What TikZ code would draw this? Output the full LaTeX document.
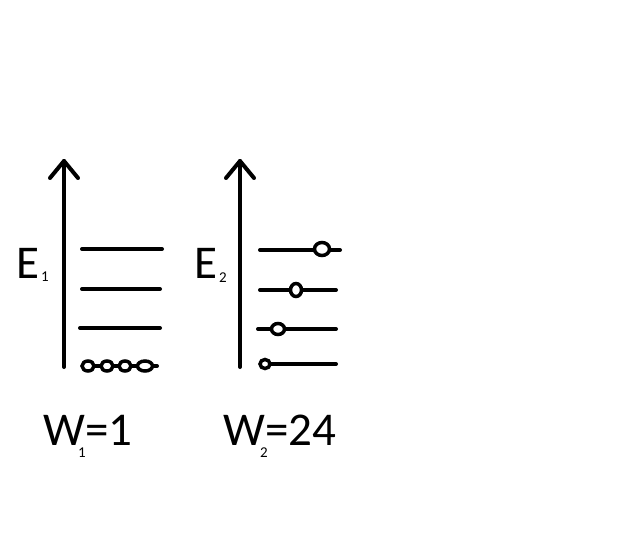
\documentclass[tikz,border=0pt]{standalone}
\usepackage{fontspec}
\setmainfont{Carlito}
\begin{document}
\begin{tikzpicture}[x=1pt,y=-1pt,
  axis/.style={line width=4pt,line cap=round,line join=round},
  level/.style={line width=4pt,line cap=round},
  ring/.style={line width=3.5pt,fill=white},
  big/.style={font=\fontsize{47}{47}\selectfont,inner sep=0pt,anchor=base west},
  sub/.style={font=\fontsize{15}{15}\selectfont,inner sep=0pt,anchor=base west}]
\useasboundingbox (0,0) rectangle (634,551);
% left diagram
\coordinate (a1b) at (64,367);
\coordinate (a1t) at (64,161);
\draw[axis] (a1b) -- (a1t);
\draw[axis] (50,178) -- (a1t) -- (78,178);
\node[big] (e1) at (16,278) {E};
\node[sub] (e1s) at (41,281) {1};
\draw[level] (82,249) -- (162,249);
\draw[level] (82,289) -- (160,289);
\draw[level] (80,328) -- (160,328);
\draw[level] (84,366) -- (157,366);
\foreach \x/\r in {88/6,107/6,125/6,145/7.5}
  \draw[ring] (\x,366) ellipse [x radius=\r pt,y radius=5pt];
% right diagram
\coordinate (a2b) at (240,367);
\coordinate (a2t) at (240,161);
\draw[axis] (a2b) -- (a2t);
\draw[axis] (226,178) -- (a2t) -- (254,178);
\node[big] (e2) at (194,278) {E};
\node[sub] (e2s) at (219,282) {2};
\draw[level] (260,250) -- (340,250);
\draw[level] (260,290) -- (336,290);
\draw[level] (258,329) -- (336,329);
\draw[level] (262,364) -- (336,364);
\draw[ring] (322,249) ellipse [x radius=7.5pt,y radius=6.5pt];
\draw[ring] (296,290) ellipse [x radius=5.5pt,y radius=6.5pt];
\draw[ring] (278,329) ellipse [x radius=6.5pt,y radius=5.5pt];
\draw[ring] (265,364) ellipse [x radius=5pt,y radius=4.5pt];
% labels
\node[big] (w1) at (43,445) {W};
\node[sub] (w1s) at (78,457) {1};
\node[big] (w1v) at (85,445) {=1};
\node[big] (w2) at (223,445) {W};
\node[sub] (w2s) at (260,457) {2};
\node[big] (w2v) at (265,445) {=24};
\end{tikzpicture}
\end{document}
